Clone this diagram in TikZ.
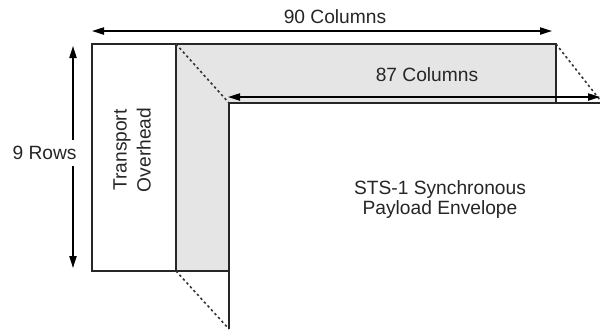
\documentclass[tikz,border=0pt]{standalone}
\usepackage{fontspec}
\setmainfont{Liberation Sans}
\usetikzlibrary{arrows.meta}

\begin{document}
\begin{tikzpicture}[
    x=0.5pt, y=-0.5pt,
    every node/.style={font=\fontsize{9.6}{11}\selectfont, text=black!85},
    frameline/.style={draw=black!85, line width=0.8pt},
    dimarrow/.style={draw=black, line width=0.75pt,
      {Triangle[length=6pt,width=3.6pt]}-{Triangle[length=6pt,width=3.6pt]}},
    shiftline/.style={draw=black!80, line width=0.8pt, dash pattern=on 1.2pt off 1.4pt}
  ]
  \useasboundingbox (0,0) rectangle (600,329);

  % Frame corners
  \coordinate (ftl) at (92,44);
  \coordinate (fbl) at (92,271);
  \coordinate (otr) at (176,44);
  \coordinate (obr) at (176,271);
  \coordinate (ftr) at (556,44);
  \coordinate (ftrb) at (556,103);

  % Payload envelope corners
  \coordinate (etl) at (229,103);
  \coordinate (etr) at (600,103);
  \coordinate (ebl) at (229,329);

  % Grey part of the frame and the shifted envelope
  \fill[gray!20] (otr) rectangle (556,271);
  \fill[white] (etl) rectangle (600,329);

  \draw[frameline] (ftrb) -- (ftr) -- (ftl) -- (fbl) -- (229,271);
  \draw[frameline] (otr) -- (obr);
  \draw[frameline] (ebl) -- (etl) -- (etr);

  % Shift of the envelope
  \draw[shiftline] (otr) -- (etl);
  \draw[shiftline] (ftr) -- (600,100);
  \draw[shiftline] (obr) -- (ebl);

  % Dimensions
  \coordinate (c90l) at (92,31);
  \coordinate (c90r) at (552,31);
  \draw[dimarrow] (c90l) -- (c90r);
  \node (cols90) at (335,17) {90 Columns};

  \coordinate (c87l) at (228,97);
  \coordinate (c87r) at (600,97);
  \draw[dimarrow] (c87l) -- (c87r);
  \node (cols87) at (427,75) {87 Columns};

  \coordinate (r9t) at (73,46);
  \coordinate (r9b) at (73,268);
  \draw[dimarrow] (r9t) -- (r9b);
  \node[fill=white, anchor=east, inner xsep=1pt, inner ysep=3pt] (rows9) at (79,153) {9 Rows};

  % Labels
  \node[rotate=90, align=center, font=\fontsize{9.6}{12}\selectfont] (toh) at (132,150) {Transport\\Overhead};
  \node[align=center, font=\fontsize{9.6}{10}\selectfont] (spe) at (440,200) {STS-1 Synchronous\\Payload Envelope};
\end{tikzpicture}
\end{document}
